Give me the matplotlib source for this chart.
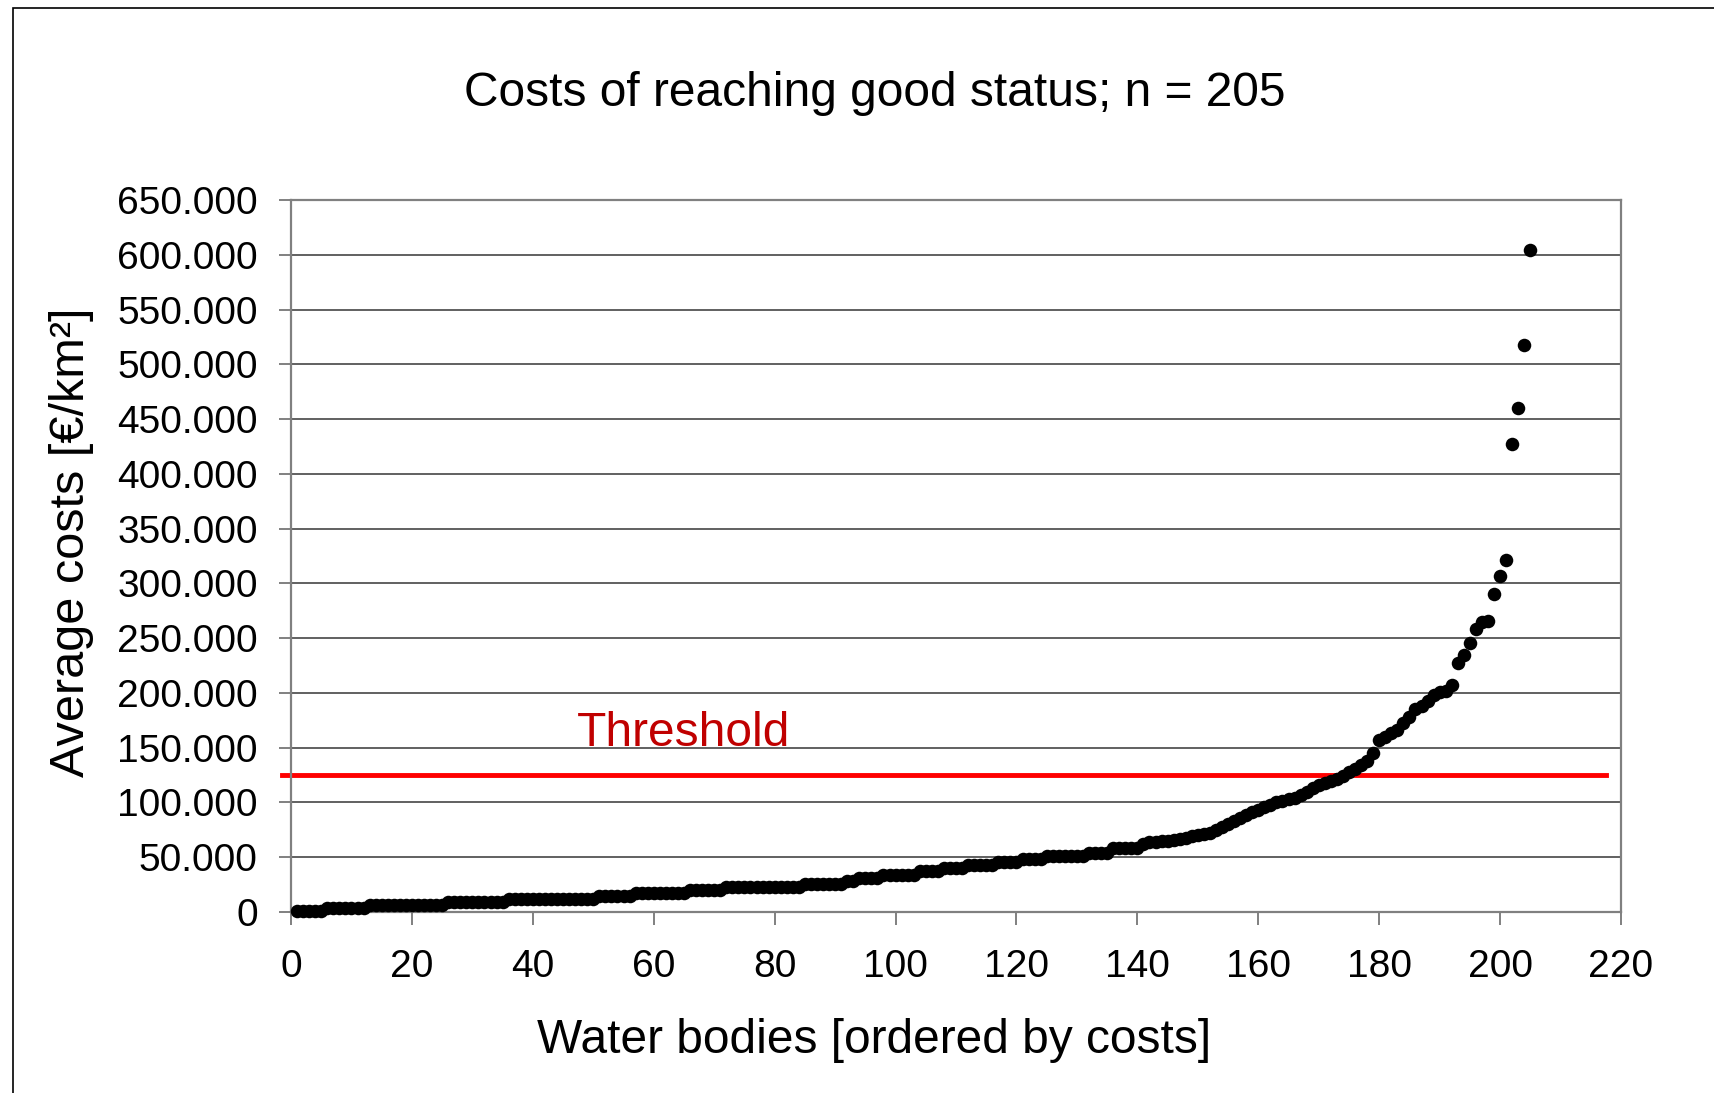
import matplotlib.pyplot as plt
from matplotlib.patches import Rectangle
from matplotlib.ticker import FuncFormatter, MultipleLocator

plt.rcParams['font.family'] = ['Liberation Sans', 'DejaVu Sans']

# Average costs per water body [EUR/km2], ordered by costs
costs = [
    1000, 1000, 1000, 1000, 1000,
    4000, 4000, 4000, 4000, 4000, 4000, 4000,
    6000, 6000, 6000, 6000, 6000, 6000, 6000, 6000, 6000, 6000, 6000, 6000, 6000,
    9000, 9000, 9000, 9000, 9000, 9000, 9000, 9000, 9000, 9000,
    12000, 12000, 12000, 12000, 12000, 12000, 12000, 12000, 12000, 12000,
    12000, 12000, 12000, 12000, 12000,
    14500, 14500, 14500, 14500, 14500, 14500,
    17000, 17000, 17000, 17000, 17000, 17000, 17000, 17000, 17000,
    20000, 20000, 20000, 20000, 20000, 20000,
    22500, 22500, 22500, 22500, 22500, 22500, 22500, 22500, 22500, 22500,
    22500, 22500, 22500,
    25500, 25500, 25500, 25500, 25500, 25500, 25500,
    28500, 28500,
    31000, 31000, 31000, 31000,
    34000, 34000, 34000, 34000, 34000, 34000,
    37000, 37000, 37000, 37000,
    40000, 40000, 40000, 40000,
    42500, 42500, 42500, 42500, 42500,
    45500, 45500, 45500, 45500,
    48500, 48500, 48500, 48500,
    51000, 51000, 51000, 51000, 51000, 51000, 51000,
    53500, 53500, 53500, 53500,
    58500, 58500, 58500, 58500, 58500,
    62000, 63500, 64000, 64500, 65000, 65500,
    67000, 68000, 69000, 70000, 71000, 72500,
    75000, 78000, 80500, 83000, 86000, 89000,
    91000, 93000, 95500, 98000, 100000, 101500,
    103000, 104500, 107000, 110000, 113000, 116000,
    118000, 119500, 121000, 124000, 128000,
    131000, 134500, 137500, 145500, 157000,
    160000, 163000, 166000, 172500, 178000,
    185000, 188000, 193000, 198000, 200500,
    202000, 207000, 227000, 235000, 246000,
    258000, 265000, 266000, 290000, 307000,
    321000, 427000, 460000, 518000, 604000,
]
water_bodies = list(range(1, len(costs) + 1))

threshold = 125000
threshold_x = [-1.5, 217.5]

fig = plt.figure(figsize=(17.15, 10.93), dpi=100)
ax = fig.add_axes([0.1697, 0.1656, 0.7755, 0.6514])

# outer chart border (left and top visible in the original)
fig.patches.append(Rectangle((13 / 1715, -0.01), 1.0, 1 - 8 / 1093 + 0.01,
                             transform=fig.transFigure, fill=False,
                             edgecolor='black', linewidth=1.2))

ax.set_xlim(0, 220)
ax.set_ylim(0, 650000)
ax.xaxis.set_major_locator(MultipleLocator(20))
ax.yaxis.set_major_locator(MultipleLocator(50000))
ax.yaxis.set_major_formatter(FuncFormatter(lambda v, p: f"{int(v):,}".replace(',', '.')))

ax.grid(True, axis='y', color='#454545', linewidth=1.2, zorder=0)
for s in ax.spines.values():
    s.set_color('#808080')
    s.set_linewidth(1.6)
ax.tick_params(axis='both', direction='out', length=9, width=1.4, color='#808080',
               labelsize=28)
ax.tick_params(axis='y', pad=15)
ax.tick_params(axis='x', pad=18)

# white box behind the Threshold label hides the 150.000 gridline
ax.add_patch(Rectangle((0.017, 0.215), 0.555, 0.05, transform=ax.transAxes,
                       facecolor='white', edgecolor='none', zorder=1))
ax.text(65, 163000, "Threshold", color='#C00000', fontsize=34.5,
        ha='center', va='center', zorder=4)

ax.scatter(water_bodies, costs, s=95, color='black', linewidths=0, zorder=3, clip_on=False)
ax.plot(threshold_x, [threshold, threshold], color='#FF0000', linewidth=3.5,
        zorder=2, clip_on=False)

fig.text(0.510, 0.914, "Costs of reaching good status; n = 205", fontsize=34.5,
         ha='center', va='center')
ax.set_xlabel("Water bodies [ordered by costs]", fontsize=34.5)
ax.xaxis.set_label_coords(0.438, -0.18)
ax.xaxis.label.set_verticalalignment('center')
ax.set_ylabel("Average costs [€/km²]", fontsize=35)
ax.yaxis.set_label_coords(-0.165, 0.52)
ax.yaxis.label.set_verticalalignment('center')

plt.savefig("out.png", dpi=100)
plt.close()
